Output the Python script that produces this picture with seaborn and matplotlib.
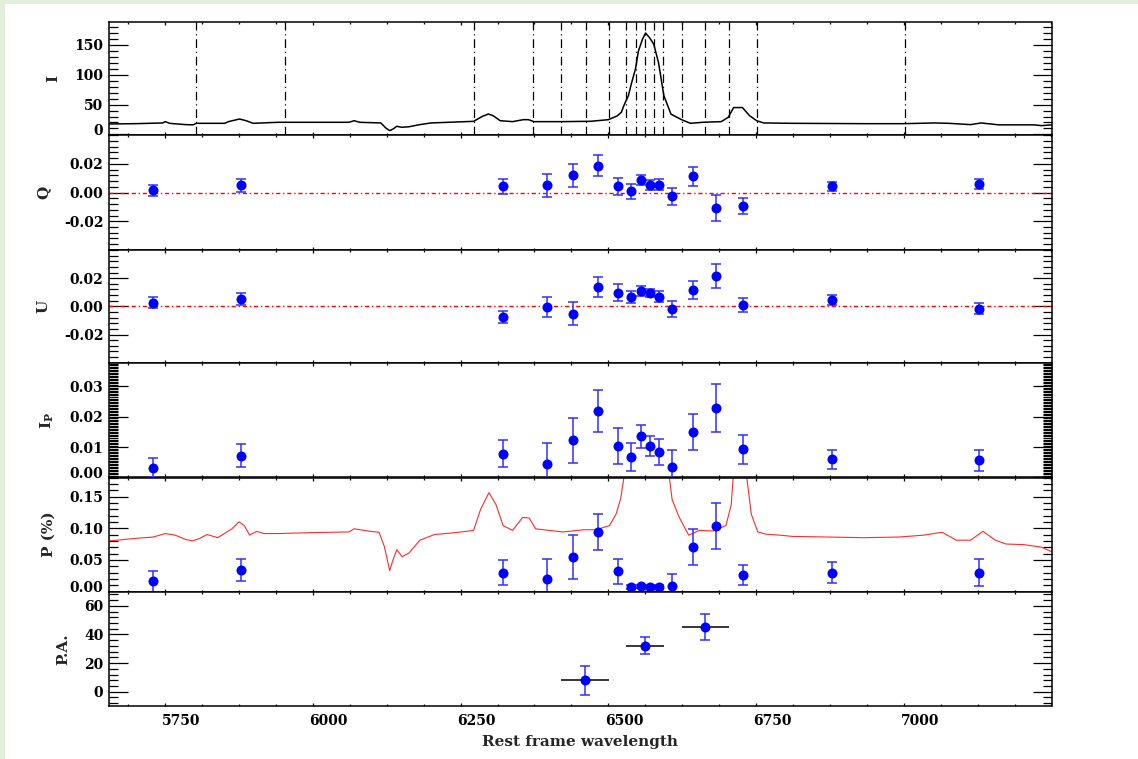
import numpy as np
import pandas as pd
import matplotlib
matplotlib.use('Agg')
import matplotlib.pyplot as plt
from matplotlib.patches import Rectangle
from matplotlib.ticker import MultipleLocator, FixedLocator, FormatStrFormatter
from matplotlib.transforms import ScaledTranslation
import seaborn as sns

# total flux spectrum (top panel)
spec_wl = [5656, 5700, 5746, 5750, 5758, 5785, 5797, 5803, 5851, 5857, 5876, 5887, 5899, 5941,
           6001, 6061, 6070, 6079, 6115, 6124, 6130, 6136, 6142, 6151, 6163, 6181, 6200, 6242,
           6272, 6287, 6297, 6305, 6317, 6338, 6356, 6365, 6374, 6422, 6470, 6500, 6515, 6522,
           6527, 6534, 6539, 6546, 6551, 6558, 6563, 6570, 6577, 6585, 6594, 6606, 6624, 6639,
           6660, 6691, 6703, 6712, 6727, 6739, 6751, 6763, 6811, 6932, 7000, 7052, 7076, 7113,
           7131, 7161, 7221, 7233, 7250]
spec_flux = [17.5, 18, 19.2, 21.4, 18.5, 16.4, 16, 18.6, 18.6, 21.4, 25.8, 23, 18.6, 20.3,
             20.3, 20.3, 23, 20.3, 19.2, 10.3, 6.4, 9.2, 13.6, 11.9, 12.9, 16.4, 19.2, 20.8,
             21.9, 30.3, 34.2, 31.4, 23, 21.4, 24.7, 24.7, 21.4, 21.4, 22, 24.7, 31, 37,
             50, 65, 85, 110, 140, 160, 170, 162, 151, 120, 65, 34, 24.7, 18.6,
             20.3, 21.4, 28.7, 45, 45, 31.4, 23, 19.2, 18.6, 18, 18, 19.2, 18.6, 16.4,
             19.2, 16, 16, 14.7, 16]

# polarisation spectrum (P panel, red)
pol_wl = [5656, 5680, 5701, 5730, 5750, 5767, 5785, 5797, 5809, 5821, 5839, 5863, 5875, 5884,
          5893, 5905, 5917, 5941, 6001, 6061, 6070, 6097, 6112, 6121, 6130, 6136, 6142, 6151,
          6163, 6181, 6206, 6242, 6272, 6284, 6298, 6310, 6322, 6338, 6355, 6366, 6377, 6423,
          6458, 6479, 6502, 6513, 6521, 6528, 6545, 6565, 6585, 6602, 6608, 6620, 6636, 6654,
          6677, 6699, 6708, 6712, 6722, 6733, 6742, 6753, 6767, 6790, 6811, 6872, 6932, 6992,
          7034, 7065, 7089, 7113, 7134, 7155, 7173, 7203, 7233, 7250]
pol_p = [0.080, 0.082, 0.084, 0.086, 0.0915, 0.089, 0.082, 0.080, 0.084, 0.090, 0.085, 0.099, 0.110, 0.104,
         0.089, 0.095, 0.0915, 0.0915, 0.093, 0.094, 0.099, 0.095, 0.0935, 0.071, 0.033, 0.051, 0.066, 0.055,
         0.061, 0.081, 0.090, 0.093, 0.0965, 0.130, 0.156, 0.137, 0.104, 0.0965, 0.117, 0.116, 0.099, 0.094,
         0.0975, 0.0975, 0.104, 0.122, 0.147, 0.19, 0.30, 0.35, 0.30, 0.19, 0.145, 0.117, 0.089, 0.0965,
         0.0955, 0.104, 0.137, 0.19, 0.30, 0.19, 0.122, 0.094, 0.0905, 0.089, 0.087, 0.086, 0.085, 0.086,
         0.089, 0.0935, 0.081, 0.081, 0.095, 0.081, 0.075, 0.074, 0.070, 0.063]

# bin boundaries (dash-dot lines)
bin_edges = [5803, 5952, 6272, 6372, 6420, 6462, 6501, 6530, 6547, 6562, 6577, 6593, 6624,
             6663, 6704, 6751, 7002]

# binned measurements
bin_wl = [5730, 5879, 6322, 6397, 6441, 6482, 6517, 6539, 6555, 6570, 6586, 6607, 6643,
          6683, 6728, 6878, 7128]
q_val = [0.0016, 0.0049, 0.0042, 0.0049, 0.0119, 0.0187, 0.0042, 0.0007, 0.0086, 0.0052,
         0.0054, -0.0026, 0.0112, -0.0108, -0.0094, 0.0042, 0.0061]
q_err = [0.0037, 0.0043, 0.0053, 0.0077, 0.0082, 0.0071, 0.0060, 0.0050, 0.0034, 0.0033,
         0.0040, 0.0060, 0.0067, 0.0090, 0.0053, 0.0030, 0.0036]
u_val = [0.0026, 0.0054, -0.0073, -0.0002, -0.0052, 0.0140, 0.0097, 0.0066, 0.0112, 0.0095,
         0.0069, -0.0019, 0.0114, 0.0215, 0.0012, 0.0043, -0.0017]
u_err = [0.0040, 0.0042, 0.0043, 0.0071, 0.0082, 0.0071, 0.0062, 0.0045, 0.0036, 0.0030,
         0.0040, 0.0058, 0.0063, 0.0083, 0.0049, 0.0035, 0.0040]
ip_val = [0.0032, 0.0071, 0.0079, 0.0043, 0.0122, 0.0219, 0.0104, 0.0067, 0.0135, 0.0104,
          0.0084, 0.0034, 0.0150, 0.0229, 0.0093, 0.0060, 0.0057]
ip_err = [0.0031, 0.0038, 0.0043, 0.0070, 0.0073, 0.0069, 0.0060, 0.0046, 0.0037, 0.0033,
          0.0042, 0.0057, 0.0060, 0.0080, 0.0047, 0.0031, 0.0035]
p_val = [0.016, 0.034, 0.030, 0.019, 0.055, 0.094, 0.032, 0.007, 0.008, 0.007,
         0.007, 0.009, 0.070, 0.103, 0.026, 0.030, 0.030]
p_err = [0.017, 0.018, 0.019, 0.032, 0.035, 0.029, 0.020, 0.003, 0.003, 0.003,
         0.003, 0.018, 0.028, 0.036, 0.016, 0.016, 0.021]

# position angle
pa_wl = [6461, 6562, 6664]
pa_halfwidth = [40.5, 31.5, 40]
pa_val = [8, 32, 45]
pa_err = [10, 6, 9]

# tick values shown on each axis
x_ticks = [5750, 6000, 6250, 6500, 6750, 7000]
i_ticks = [0, 50, 100, 150]
qu_ticks = [-0.02, 0.0, 0.02]
ip_ticks = [0.0, 0.01, 0.02, 0.03]
p_ticks = [0.0, 0.05, 0.10, 0.15]
pa_ticks = [0, 20, 40, 60]

sns.set_style('ticks')
plt.rcParams['font.family'] = ['DejaVu Serif']
plt.rcParams['font.weight'] = 'bold'
plt.rcParams['mathtext.fontset'] = 'dejavuserif'
plt.rcParams['axes.linewidth'] = 1.1

W, H = 1138, 759
fig = plt.figure(figsize=(W / 100, H / 100), dpi=100)
fig.patch.set_facecolor('#e2efd9')
fig.patches.append(Rectangle((5 / W, 0), 1, 1 - 4 / H, transform=fig.transFigure,
                             facecolor='white', edgecolor='none', zorder=-1))

left, right = 109, 1051.5
edges = [22.3, 135, 250, 362.7, 477.5, 591.5, 706]
axes = []
for i in range(6):
    top, bot = edges[i], edges[i + 1]
    ax = fig.add_axes([left / W, 1 - bot / H, (right - left) / W, (bot - top) / H])
    axes.append(ax)

blue = '#0000ff'
ebar = '#3030ff'
font_size = 10


def style(ax, ylim, ticks, minor, fmt, label, lift_zero=False):
    ax.set_xlim(5655, 7250)
    ax.set_ylim(*ylim)
    ax.xaxis.set_major_locator(FixedLocator(x_ticks))
    ax.xaxis.set_minor_locator(MultipleLocator(62.5))
    ax.yaxis.set_major_locator(FixedLocator(ticks))
    ax.yaxis.set_minor_locator(MultipleLocator(minor))
    ax.yaxis.set_major_formatter(FormatStrFormatter(fmt))
    ax.tick_params(axis='both', which='both', direction='in', top=True, right=True,
                   colors='black', labelsize=font_size)
    ax.tick_params(axis='y', which='major', length=13.7, width=0.9, pad=4)
    ax.tick_params(axis='y', which='minor', length=6.8, width=0.9)
    ax.tick_params(axis='x', which='major', length=2.3, width=0.9, pad=6)
    ax.tick_params(axis='x', which='minor', length=1.2, width=0.9)
    ax.tick_params(axis='x', labelbottom=False)
    for s in ax.spines.values():
        s.set_color('black')
    ax.set_ylabel(label, fontsize=font_size + 1, fontweight='bold', labelpad=10)
    if lift_zero:
        lab = ax.yaxis.get_major_ticks()[0].label1
        lab.set_transform(lab.get_transform() + ScaledTranslation(0, 5 / 100, fig.dpi_scale_trans))


def points(ax, y, yerr):
    ax.errorbar(bin_wl, y, yerr=yerr, fmt='none', ecolor=ebar, elinewidth=1.1,
                capsize=3.6, capthick=1.1, zorder=3)
    sns.scatterplot(x=bin_wl, y=y, ax=ax, color=blue, s=52, edgecolor=blue,
                    linewidth=0, zorder=4)


# I
ax = axes[0]
sns.lineplot(x=spec_wl, y=spec_flux, ax=ax, color='black', linewidth=1.1,
             sort=False, estimator=None)
for e in bin_edges:
    ax.axvline(e, color='black', linewidth=0.9, dashes=(7, 3, 1, 3))
style(ax, (-1, 188), i_ticks, 10, '%d', 'I', lift_zero=True)

# Q
ax = axes[1]
ax.axhline(0, color='red', linewidth=1.0, dashes=(3, 2, 1, 2))
points(ax, q_val, q_err)
style(ax, (-0.04, 0.04), qu_ticks, 0.004, '%.2f', 'Q')

# U
ax = axes[2]
ax.axhline(0, color='red', linewidth=1.0, dashes=(3, 2, 1, 2))
points(ax, u_val, u_err)
style(ax, (-0.04, 0.04), qu_ticks, 0.004, '%.2f', 'U')

# Ip
ax = axes[3]
points(ax, ip_val, ip_err)
style(ax, (0, 0.0378), ip_ticks, 0.0005, '%.2f', r'I$_\mathbf{P}$', lift_zero=True)

# P
ax = axes[4]
sns.lineplot(x=pol_wl, y=pol_p, ax=ax, color='#ff2a2a', linewidth=0.8,
             sort=False, estimator=None)
points(ax, p_val, p_err)
style(ax, (0, 0.18), p_ticks, 0.01, '%.2f', 'P (%)', lift_zero=True)

# P.A.
ax = axes[5]
ax.errorbar(pa_wl, pa_val, xerr=pa_halfwidth, fmt='none', ecolor='black',
            elinewidth=1.1, capsize=0, zorder=2)
ax.errorbar(pa_wl, pa_val, yerr=pa_err, fmt='none', ecolor=ebar, elinewidth=1.1,
            capsize=3.6, capthick=1.1, zorder=3)
sns.scatterplot(x=pa_wl, y=pa_val, ax=ax, color=blue, s=52, edgecolor=blue,
                linewidth=0, zorder=4)
style(ax, (-10, 70), pa_ticks, 4, '%d', 'P.A.')
ax.tick_params(axis='x', labelbottom=True)
# wavelength labels sit a little right of their ticks, as in the original
shift = ScaledTranslation(16 / 100, 0, fig.dpi_scale_trans)
for t in ax.xaxis.get_major_ticks():
    t.label1.set_transform(t.label1.get_transform() + shift)
ax.set_xlabel('Rest frame wavelength', fontsize=font_size + 1, fontweight='bold', labelpad=5)

fig.savefig('out.png', dpi=100, facecolor=fig.get_facecolor())
